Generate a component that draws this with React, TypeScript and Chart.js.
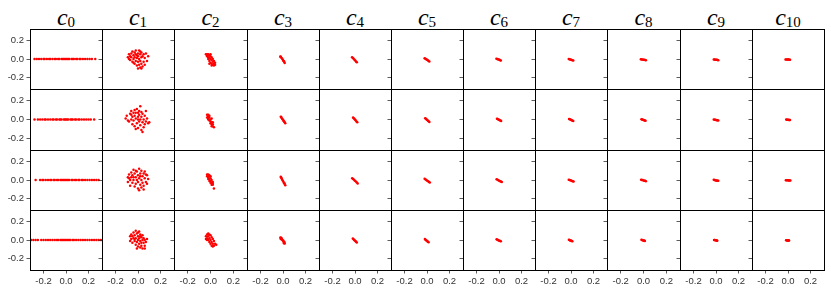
import React, { useEffect, useRef } from "react";
import { Chart, registerables } from "chart.js";

Chart.register(...registerables);

// ---------- labels ----------
const COLUMN_SUBSCRIPTS = ["0", "1", "2", "3", "4", "5", "6", "7", "8", "9", "10"];
const TICK_VALUES = [-0.2, 0.0, 0.2];
const TICK_LABELS = ["-0.2", "0.0", "0.2"];
const AXIS_MIN = -0.32;
const AXIS_MAX = 0.32;

// ---------- column c0 : x values (y = 0) ----------
const C0_R0 = [-0.28, -0.26, -0.24, -0.22, -0.2, -0.19, -0.17, -0.15, -0.14, -0.12, -0.1, -0.09, -0.07, -0.06, -0.04, -0.03, -0.02, -0.01, 0, 0.01, 0.02, 0.03, 0.05, 0.06, 0.07, 0.09, 0.1, 0.12, 0.13, 0.15, 0.17, 0.19, 0.21, 0.23, 0.26];
const C0_R1 = [-0.28, -0.25, -0.23, -0.21, -0.19, -0.18, -0.16, -0.14, -0.12, -0.11, -0.09, -0.08, -0.06, -0.05, -0.04, -0.02, -0.01, 0, 0.01, 0.02, 0.04, 0.05, 0.06, 0.08, 0.09, 0.11, 0.12, 0.14, 0.16, 0.18, 0.2, 0.22, 0.25];
const C0_R2 = [-0.27, -0.23, -0.21, -0.2, -0.18, -0.16, -0.14, -0.13, -0.11, -0.1, -0.08, -0.07, -0.05, -0.04, -0.03, -0.02, -0.01, 0, 0.01, 0.02, 0.03, 0.05, 0.06, 0.08, 0.09, 0.11, 0.12, 0.14, 0.15, 0.17, 0.19, 0.21, 0.23, 0.25, 0.27, 0.29];
const C0_R3 = [-0.31, -0.29, -0.27, -0.25, -0.22, -0.2, -0.18, -0.16, -0.14, -0.12, -0.1, -0.08, -0.07, -0.05, -0.04, -0.03, -0.02, -0.01, 0, 0.01, 0.02, 0.03, 0.04, 0.06, 0.07, 0.09, 0.11, 0.13, 0.15, 0.17, 0.19, 0.21, 0.23, 0.25, 0.27, 0.29, 0.31];

// ---------- column c1 : [x, y] ----------
const C1_R0 = [[-0.09, 0.02], [-0.08, 0.05], [-0.07, -0.01], [-0.06, 0.06], [-0.06, 0.02], [-0.05, -0.03], [-0.05, 0.08], [-0.04, 0.04], [-0.04, 0.0], [-0.03, 0.07], [-0.03, -0.05], [-0.03, 0.02], [-0.02, 0.09], [-0.02, -0.02], [-0.02, 0.05], [-0.01, 0.01], [-0.01, -0.07], [0.0, 0.06], [0.0, -0.03], [0.0, 0.03], [0.01, 0.09], [0.01, -0.06], [0.01, 0.0], [0.02, 0.05], [0.02, -0.09], [0.02, -0.02], [0.03, 0.07], [0.03, 0.02], [0.03, -0.05], [0.04, -0.08], [0.04, 0.03], [0.05, 0.05], [0.05, -0.03], [0.06, 0.01], [0.07, 0.06], [0.08, -0.02], [0.09, 0.03], [-0.07, 0.03], [-0.01, 0.04], [0.02, 0.08], [-0.04, -0.04], [0.0, -0.1], [0.03, -0.1], [0.06, -0.06], [-0.08, 0.0]];
const C1_R1 = [[-0.11, 0.01], [-0.1, 0.04], [-0.08, -0.02], [-0.07, 0.06], [-0.06, 0.0], [-0.06, 0.09], [-0.05, -0.05], [-0.05, 0.03], [-0.04, 0.07], [-0.04, -0.01], [-0.03, 0.1], [-0.03, 0.04], [-0.03, -0.07], [-0.02, 0.01], [-0.02, 0.07], [-0.01, -0.04], [-0.01, 0.11], [0.0, 0.03], [0.0, -0.09], [0.0, 0.07], [0.01, -0.02], [0.01, 0.05], [0.02, 0.0], [0.02, -0.06], [0.02, 0.14], [0.03, 0.08], [0.03, -0.11], [0.03, 0.03], [0.04, -0.03], [0.04, 0.06], [0.05, 0.0], [0.05, -0.08], [0.06, 0.04], [0.06, -0.05], [0.07, 0.09], [0.08, 0.01], [0.09, -0.04], [0.1, -0.03], [-0.09, -0.01], [0.0, 0.0], [-0.02, -0.1], [0.01, 0.09], [0.07, -0.02], [-0.06, 0.05], [0.04, -0.13]];
const C1_R2 = [[-0.09, 0.03], [-0.09, -0.02], [-0.08, 0.06], [-0.07, 0.0], [-0.07, -0.06], [-0.06, 0.08], [-0.06, 0.03], [-0.05, -0.03], [-0.05, 0.05], [-0.04, 0.11], [-0.04, 0.0], [-0.03, -0.07], [-0.03, 0.07], [-0.02, 0.03], [-0.02, -0.04], [-0.01, 0.09], [-0.01, 0.0], [0.0, -0.09], [0.0, 0.05], [0.0, -0.02], [0.01, 0.12], [0.01, 0.02], [0.02, -0.05], [0.02, 0.07], [0.03, 0.0], [0.03, -0.08], [0.03, 0.1], [0.04, 0.04], [0.04, -0.03], [0.05, 0.07], [0.05, -0.06], [0.06, 0.02], [0.07, -0.02], [0.08, 0.05], [0.08, -0.04], [0.09, 0.01], [-0.04, 0.03], [0.01, -0.11], [0.06, 0.09], [-0.08, 0.02], [0.02, 0.04], [-0.02, 0.1], [0.05, -0.1], [0.07, 0.06]];
const C1_R3 = [[-0.07, 0.04], [-0.07, -0.01], [-0.06, 0.01], [-0.06, 0.06], [-0.05, -0.03], [-0.04, 0.02], [-0.04, 0.08], [-0.03, -0.01], [-0.03, 0.05], [-0.02, 0.1], [-0.02, -0.05], [-0.02, 0.02], [-0.01, 0.07], [-0.01, -0.02], [0.0, 0.04], [0.0, -0.07], [0.0, 0.0], [0.01, 0.09], [0.01, -0.04], [0.01, 0.02], [0.02, 0.06], [0.02, -0.08], [0.02, -0.01], [0.03, 0.03], [0.03, -0.06], [0.04, 0.0], [0.04, -0.09], [0.04, 0.05], [0.05, -0.03], [0.05, 0.02], [0.06, -0.06], [0.06, 0.0], [0.07, -0.02], [0.08, 0.01], [-0.05, 0.04], [0.0, 0.08], [0.03, -0.03], [-0.01, -0.09], [0.02, 0.04], [-0.03, 0.01], [0.06, -0.09]];

// ---------- column c2 ----------
const C2_R0 = [[-0.04, 0.05], [-0.03, 0.05], [-0.02, 0.05], [-0.01, 0.04], [-0.03, 0.03], [-0.02, 0.02], [-0.01, 0.01], [0.0, 0.03], [-0.02, 0.0], [0.0, 0.0], [0.01, 0.02], [-0.01, -0.02], [0.01, -0.01], [0.02, 0.0], [0.0, -0.04], [0.02, -0.03], [0.03, -0.02], [0.01, -0.05], [0.02, -0.06], [0.03, -0.05], [0.04, -0.04], [0.01, -0.07], [0.03, -0.07], [-0.03, 0.04], [0.0, 0.05], [0.04, -0.06], [-0.01, -0.05]];
const C2_R1 = [[-0.03, 0.05], [-0.02, 0.05], [-0.02, 0.03], [-0.03, 0.02], [-0.01, 0.02], [-0.02, 0.0], [0.0, 0.0], [-0.01, -0.01], [0.0, -0.02], [0.01, -0.03], [0.0, -0.04], [0.01, -0.05], [0.02, -0.05], [0.02, -0.07], [0.03, -0.08], [0.01, 0.01], [-0.01, 0.04], [0.01, -0.07], [0.02, -0.03], [-0.02, 0.01]];
const C2_R2 = [[-0.03, 0.06], [-0.02, 0.06], [-0.03, 0.04], [-0.02, 0.03], [-0.01, 0.04], [-0.02, 0.01], [-0.01, 0.01], [0.0, 0.02], [-0.01, -0.01], [0.0, -0.01], [0.01, 0.0], [0.0, -0.03], [0.01, -0.03], [0.02, -0.02], [0.01, -0.05], [0.02, -0.04], [-0.01, 0.05], [0.03, -0.09], [0.0, 0.04], [0.02, -0.05]];
const C2_R3 = [[-0.03, 0.06], [-0.02, 0.07], [-0.01, 0.06], [-0.04, 0.04], [-0.02, 0.04], [0.0, 0.05], [-0.03, 0.02], [-0.01, 0.02], [0.01, 0.03], [-0.02, 0.0], [0.0, 0.0], [0.02, 0.01], [-0.01, -0.02], [0.01, -0.02], [0.03, -0.01], [0.0, -0.04], [0.02, -0.04], [0.04, -0.04], [0.01, -0.06], [0.03, -0.06], [-0.03, 0.0], [0.02, -0.07], [0.05, -0.05], [-0.04, 0.01]];

// ---------- columns c3..c10, row 0 ----------
const C3_R0 = [[-0.024, 0.028], [-0.018, 0.02], [-0.012, 0.01], [-0.006, 0.0], [0.0, -0.01], [0.005, -0.02], [0.01, -0.03], [0.015, -0.042], [-0.02, 0.025], [0.008, -0.024]];
const C4_R0 = [[-0.026, 0.019], [-0.019, 0.01], [-0.012, 0.002], [-0.005, -0.007], [0.002, -0.016], [0.009, -0.026], [0.016, -0.035]];
const C5_R0 = [[-0.021, 0.009], [-0.014, 0.003], [-0.007, -0.003], [0.0, -0.008], [0.007, -0.014], [0.014, -0.02], [0.021, -0.026]];
const C6_R0 = [[-0.023, 0.004], [-0.016, 0.001], [-0.01, -0.003], [-0.003, -0.006], [0.004, -0.009], [0.01, -0.013], [0.016, -0.016]];
const C7_R0 = [[-0.02, 0.0], [-0.013, -0.003], [-0.007, -0.005], [0.0, -0.008], [0.007, -0.011], [0.013, -0.013], [0.02, -0.016]];
const C8_R0 = [[-0.023, -0.002], [-0.016, -0.004], [-0.009, -0.006], [-0.001, -0.007], [0.006, -0.009], [0.014, -0.011], [0.021, -0.013]];
const C9_R0 = [[-0.02, -0.004], [-0.013, -0.005], [-0.007, -0.007], [0.0, -0.008], [0.007, -0.009], [0.013, -0.011], [0.02, -0.012]];
const C10_R0 = [[-0.022, -0.005], [-0.015, -0.005], [-0.008, -0.006], [-0.001, -0.006], [0.005, -0.006], [0.012, -0.007], [0.018, -0.007]];

// ---------- columns c3..c10, row 1 ----------
const C3_R1 = [[-0.02, 0.028], [-0.014, 0.018], [-0.008, 0.008], [-0.002, -0.001], [0.004, -0.011], [0.01, -0.02], [0.015, -0.03], [0.02, -0.039], [-0.016, 0.025], [0.006, -0.016]];
const C4_R1 = [[-0.017, 0.021], [-0.011, 0.013], [-0.005, 0.005], [0.001, -0.003], [0.007, -0.011], [0.013, -0.02], [0.02, -0.028]];
const C5_R1 = [[-0.016, 0.014], [-0.01, 0.008], [-0.004, 0.001], [0.002, -0.005], [0.009, -0.012], [0.015, -0.018], [0.021, -0.025]];
const C6_R1 = [[-0.018, 0.009], [-0.012, 0.005], [-0.006, 0.001], [0.0, -0.003], [0.006, -0.007], [0.013, -0.011], [0.019, -0.015]];
const C7_R1 = [[-0.017, 0.006], [-0.011, 0.002], [-0.005, -0.001], [0.001, -0.005], [0.008, -0.009], [0.014, -0.012], [0.02, -0.016]];
const C8_R1 = [[-0.018, 0.003], [-0.012, 0.0], [-0.006, -0.002], [0.0, -0.004], [0.006, -0.007], [0.012, -0.01], [0.018, -0.012]];
const C9_R1 = [[-0.02, 0.0], [-0.013, -0.002], [-0.007, -0.003], [0.0, -0.005], [0.007, -0.007], [0.013, -0.008], [0.02, -0.01]];
const C10_R1 = [[-0.016, -0.001], [-0.01, -0.002], [-0.004, -0.003], [0.002, -0.003], [0.008, -0.004], [0.013, -0.005], [0.018, -0.005]];

// ---------- columns c3..c10, row 2 ----------
const C3_R2 = [[-0.02, 0.034], [-0.015, 0.022], [-0.01, 0.01], [-0.004, -0.002], [0.002, -0.015], [0.008, -0.028], [0.014, -0.041], [0.02, -0.055], [-0.017, 0.03], [0.011, -0.034]];
const C4_R2 = [[-0.025, 0.02], [-0.017, 0.011], [-0.009, 0.002], [-0.001, -0.008], [0.008, -0.017], [0.016, -0.027], [0.024, -0.036]];
const C5_R2 = [[-0.021, 0.013], [-0.013, 0.006], [-0.006, 0.0], [0.002, -0.007], [0.01, -0.014], [0.017, -0.02], [0.025, -0.027]];
const C6_R2 = [[-0.021, 0.007], [-0.013, 0.002], [-0.006, -0.002], [0.002, -0.007], [0.01, -0.012], [0.017, -0.016], [0.025, -0.021]];
const C7_R2 = [[-0.02, 0.004], [-0.013, 0.001], [-0.006, -0.003], [0.001, -0.006], [0.009, -0.01], [0.016, -0.013], [0.023, -0.017]];
const C8_R2 = [[-0.021, 0.004], [-0.014, 0.001], [-0.007, -0.001], [0.0, -0.004], [0.007, -0.007], [0.014, -0.009], [0.021, -0.012]];
const C9_R2 = [[-0.02, 0.002], [-0.013, 0.0], [-0.007, -0.002], [0.0, -0.004], [0.007, -0.005], [0.013, -0.007], [0.02, -0.009]];
const C10_R2 = [[-0.019, -0.002], [-0.012, -0.002], [-0.006, -0.003], [0.001, -0.003], [0.008, -0.004], [0.014, -0.004], [0.021, -0.005]];

// ---------- columns c3..c10, row 3 ----------
const C3_R3 = [[-0.023, 0.026], [-0.018, 0.018], [-0.012, 0.009], [-0.006, 0.0], [0.0, -0.009], [0.005, -0.018], [0.01, -0.027], [0.015, -0.037], [-0.017, 0.025], [-0.011, 0.016], [0.002, -0.004], [0.012, -0.022], [-0.02, 0.012], [0.008, -0.034]];
const C4_R3 = [[-0.019, 0.015], [-0.013, 0.008], [-0.007, 0.001], [-0.001, -0.005], [0.005, -0.012], [0.01, -0.019], [0.016, -0.026]];
const C5_R3 = [[-0.019, 0.01], [-0.013, 0.004], [-0.008, -0.002], [-0.002, -0.007], [0.003, -0.013], [0.009, -0.018], [0.014, -0.024]];
const C6_R3 = [[-0.021, 0.007], [-0.015, 0.003], [-0.009, 0.0], [-0.003, -0.004], [0.004, -0.007], [0.01, -0.01], [0.016, -0.014]];
const C7_R3 = [[-0.019, 0.002], [-0.014, -0.001], [-0.008, -0.004], [-0.003, -0.006], [0.002, -0.009], [0.007, -0.011], [0.012, -0.014]];
const C8_R3 = [[-0.018, 0.002], [-0.013, 0.0], [-0.007, -0.002], [-0.002, -0.004], [0.003, -0.006], [0.008, -0.008], [0.012, -0.01]];
const C9_R3 = [[-0.017, 0.001], [-0.012, 0.0], [-0.006, -0.002], [-0.001, -0.003], [0.004, -0.005], [0.008, -0.006], [0.011, -0.007]];
const C10_R3 = [[-0.017, -0.003], [-0.012, -0.003], [-0.007, -0.004], [-0.002, -0.004], [0.003, -0.005], [0.007, -0.005], [0.009, -0.006]];

const lineOf = (xs: number[]) => xs.map((x) => [x, 0]);

const PANEL_DATA: number[][][][] = [
  [lineOf(C0_R0), C1_R0, C2_R0, C3_R0, C4_R0, C5_R0, C6_R0, C7_R0, C8_R0, C9_R0, C10_R0],
  [lineOf(C0_R1), C1_R1, C2_R1, C3_R1, C4_R1, C5_R1, C6_R1, C7_R1, C8_R1, C9_R1, C10_R1],
  [lineOf(C0_R2), C1_R2, C2_R2, C3_R2, C4_R2, C5_R2, C6_R2, C7_R2, C8_R2, C9_R2, C10_R2],
  [lineOf(C0_R3), C1_R3, C2_R3, C3_R3, C4_R3, C5_R3, C6_R3, C7_R3, C8_R3, C9_R3, C10_R3],
];

// ---------- layout ----------
const W = 831;
const H = 294;
const GRID_LEFT = 30;
const GRID_RIGHT = 824;
const GRID_TOP = 29;
const GRID_BOTTOM = 270;
const NCOLS = 11;
const NROWS = 4;
const colX = (c: number) => Math.round(GRID_LEFT + (c * (GRID_RIGHT - GRID_LEFT)) / NCOLS);
const rowY = (r: number) => Math.round(GRID_TOP + (r * (GRID_BOTTOM - GRID_TOP)) / NROWS);
const MARK = "#ff0000";
const TICK_FONT = { family: "'Liberation Sans', Arial, sans-serif", size: 9.5 };

const framePlugin = {
  id: "frame",
  afterDraw(chart: any) {
    const { ctx, chartArea: a } = chart;
    ctx.save();
    ctx.strokeStyle = "#000";
    ctx.lineWidth = 1;
    ctx.strokeRect(a.left + 0.5, a.top + 0.5, a.right - a.left, a.bottom - a.top);
    ctx.restore();
  },
};

const setTicks = (axis: any) => {
  axis.ticks = TICK_VALUES.map((value) => ({ value }));
};

const clearPadding = (s: any) => {
  s.paddingTop = 0;
  s.paddingBottom = 0;
  s.paddingLeft = 0;
  s.paddingRight = 0;
};

function Panel({ r, c }: { r: number; c: number }) {
  const ref = useRef<HTMLCanvasElement>(null);
  const x0 = colX(c);
  const x1 = colX(c + 1);
  const y0 = rowY(r);
  const y1 = rowY(r + 1);
  const yW = c === 0 ? GRID_LEFT : 5;
  const isBottom = r === NROWS - 1;
  const xH = H - GRID_BOTTOM;
  const w = yW + (x1 - x0) + 1;
  const h = y1 - y0 + (isBottom ? xH : 1);

  useEffect(() => {
    const pts = PANEL_DATA[r][c];
    const chart = new Chart(ref.current as HTMLCanvasElement, {
      type: "scatter",
      data: {
        datasets: [
          {
            data: pts.map(([x, y]) => ({ x, y })),
            backgroundColor: MARK,
            borderColor: MARK,
            borderWidth: 0,
            pointRadius: 1.25,
            pointHoverRadius: 1.25,
          },
        ],
      },
      options: {
        responsive: false,
        maintainAspectRatio: false,
        animation: false,
        events: [],
        layout: {
          autoPadding: false,
          padding: { left: 0, top: 0, right: 1, bottom: isBottom ? 0 : 1 },
        },
        plugins: { legend: { display: false }, tooltip: { enabled: false }, title: { display: false } },
        scales: {
          x: {
            type: "linear",
            min: AXIS_MIN,
            max: AXIS_MAX,
            display: isBottom,
            afterBuildTicks: setTicks,
            afterFit: (s: any) => {
              s.height = isBottom ? xH : 0;
              clearPadding(s);
            },
            border: { display: false },
            grid: { display: true, drawOnChartArea: false, drawTicks: true, tickLength: 3.5, color: "#333", lineWidth: 0.8 },
            ticks: {
              display: true,
              padding: 2,
              color: "#333",
              font: TICK_FONT,
              maxRotation: 0,
              autoSkip: false,
              callback: (_v: any, i: number) => TICK_LABELS[i],
            },
          },
          y: {
            type: "linear",
            min: AXIS_MIN,
            max: AXIS_MAX,
            afterBuildTicks: setTicks,
            afterFit: (s: any) => {
              s.width = yW;
              clearPadding(s);
            },
            border: { display: false },
            grid: { display: true, drawOnChartArea: false, drawTicks: true, tickLength: 3.5, color: "#333", lineWidth: 0.8 },
            ticks: {
              display: c === 0,
              padding: 2.5,
              color: "#333",
              font: TICK_FONT,
              autoSkip: false,
              callback: (_v: any, i: number) => TICK_LABELS[i],
            },
          },
        },
      },
      plugins: [framePlugin],
    } as any);
    return () => chart.destroy();
  }, [r, c]);

  return (
    <canvas
      ref={ref}
      width={w}
      height={h}
      style={{ position: "absolute", left: x0 - yW, top: y0, width: w, height: h, display: "block" }}
    />
  );
}

function Title({ c }: { c: number }) {
  const x0 = colX(c);
  const x1 = colX(c + 1);
  return (
    <div
      style={{
        position: "absolute",
        left: x0,
        top: 5,
        width: x1 - x0,
        textAlign: "center",
        fontFamily: "'Liberation Serif', 'Times New Roman', serif",
        fontSize: 24,
        lineHeight: "24px",
        color: "#000",
        whiteSpace: "nowrap",
      }}
    >
      <span style={{ fontStyle: "italic" }}>c</span>
      <span style={{ fontSize: 15, position: "relative", top: 2 }}>{COLUMN_SUBSCRIPTS[c]}</span>
    </div>
  );
}

export default function App() {
  const panels = [];
  for (let r = 0; r < NROWS; r++) {
    for (let c = 0; c < NCOLS; c++) {
      panels.push(<Panel key={`${r}-${c}`} r={r} c={c} />);
    }
  }
  return (
    <div style={{ position: "absolute", left: 0, top: 0, width: W, height: H, background: "#fff", overflow: "hidden" }}>
      {COLUMN_SUBSCRIPTS.map((_, c) => (
        <Title key={c} c={c} />
      ))}
      {panels}
    </div>
  );
}
